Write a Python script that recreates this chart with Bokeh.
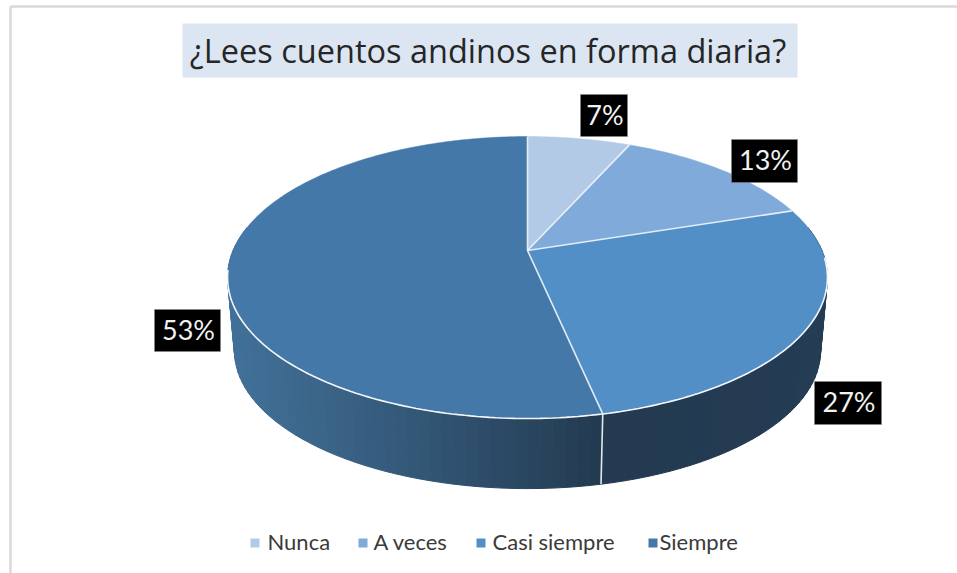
import math
from bokeh.plotting import figure
from bokeh.models import Range1d
from bokeh.core.properties import value
from bokeh.embed import file_html
from bokeh.resources import INLINE

title = "¿Lees cuentos andinos en forma diaria?"
categories = ["Nunca", "A veces", "Casi siempre", "Siempre"]
shares = [6.67, 13.33, 26.67, 53.33]
share_labels = ["7%", "13%", "27%", "53%"]
colors = ["#b3cae6", "#7faad9", "#528fc6", "#4478a8"]

# layout, in page pixels
L, R, T, B = 0, 957, 0, 573
CX, CY, A, BB, PERSP = 527, 250, 294.4, 135.8, 0.1915
LOW_SCALE, LOW_DY = 0.977, 74
label_boxes = [(580, 627, 94, 136), (731, 797, 139, 182), (814, 881, 381, 424), (154, 220, 309, 351)]
legend_marks = [250, 358, 476, 648]
legend_texts = [267, 373, 492, 659]

def top(deg):
    t = math.radians(deg)
    u, v = math.sin(t), math.cos(t)
    w = 1 + PERSP * v
    return CX + A * u / w, CY - BB * v / w

def low(deg):
    x, y = top(deg)
    return CX + (x - CX) * LOW_SCALE, CY + LOW_DY + (y - CY) * LOW_SCALE

def arc(a0, a1, step=1.0):
    n = max(2, int(abs(a1 - a0) / step) + 1)
    return [a0 + (a1 - a0) * i / (n - 1) for i in range(n)]

def mix(c0, c1, f):
    c = [round(c0[i] + (c1[i] - c0[i]) * f) for i in range(3)]
    return "#%02x%02x%02x" % tuple(c)

p = figure(width=R - L, height=B - T, x_range=Range1d(L, R), y_range=Range1d(B, T),
           toolbar_location=None, output_backend="svg", min_border=0,
           background_fill_color="white", border_fill_color="white")
p.axis.visible = False
p.grid.visible = False
p.outline_line_color = None

# chart frame
p.segment([10, 10], [6, 6], [10, R], [B, 6], line_color="#d9d9d9", line_width=2.5)

# sector angles, clockwise from 12 o'clock
total = sum(shares)
edges = [0.0]
for s in shares:
    edges.append(edges[-1] + 360 * s / total)

# rim, shaded along x
xs, ys, fc = [], [], []
for a in arc(80, 280, 2.0):
    b = a + 2.0
    if b > 280:
        break
    q = [top(a), top(b), low(b), low(a)]
    xs.append([k[0] for k in q]); ys.append([k[1] for k in q])
    mx = sum(k[0] for k in q) / 4
    if a + 1 < edges[3]:
        fc.append(mix((0x23, 0x3a, 0x50), (0x24, 0x3c, 0x54), max(0, min(1, (mx - 605) / 220))))
    else:
        f = max(0, min(1, (mx - 230) / 370))
        fc.append(mix((0x41, 0x70, 0x98), (0x23, 0x3a, 0x50), f ** 1.1))
p.patches(xs, ys, fill_color=fc, line_color=fc, line_width=1)

# rim seam
sx0, sy0 = top(edges[3]); sx1, sy1 = low(edges[3])
p.line([sx0, sx1], [sy0, sy1], line_color="#e4e8ec", line_width=1.6)

# top face
for i, c in enumerate(colors):
    pts = [top(a) for a in arc(edges[i], edges[i + 1])]
    p.patch([CX] + [k[0] for k in pts], [CY] + [k[1] for k in pts],
            fill_color=c, line_color=c, line_width=0.5)
for e in edges[:4]:
    x, y = top(e)
    p.line([CX, x], [CY, y], line_color="#f2f6fa", line_width=1.6, line_alpha=0.9)
front = [top(a) for a in arc(93, 262)]
p.line([k[0] for k in front], [k[1] for k in front], line_color="#f4f7fa", line_width=1.6)

# title
p.quad(left=[182], right=[797], top=[23], bottom=[77], fill_color="#dce6f2", line_color=None)
p.text([487.5], [50], text=[title], text_font=value("Open Sans"), text_font_size="32.5px",
       text_color="#262626", text_align="center", text_baseline="middle")

# data labels
for (x0, x1, y0, y1), s in zip(label_boxes, share_labels):
    p.quad(left=[x0], right=[x1], top=[y0], bottom=[y1], fill_color="black",
           line_color="#8a8a8a", line_width=0.5)
    p.text([(x0 + x1) / 2 + 1], [(y0 + y1) / 2 - 1.5], text=[s], text_font=value("Lato"), text_font_size="27px",
           text_color="#f2f2f2", text_align="center", text_baseline="middle")

# legend
for mx, tx, c, name in zip(legend_marks, legend_texts, colors, categories):
    p.quad(left=[mx], right=[mx + 9], top=[538], bottom=[547], fill_color=c, line_color=None)
    p.text([tx], [540.5], text=[name], text_font=value("Lato"), text_font_size="22px",
           text_color="#3a3a3a", text_align="left", text_baseline="middle")

open("out.html", "w").write(file_html(p, INLINE))
